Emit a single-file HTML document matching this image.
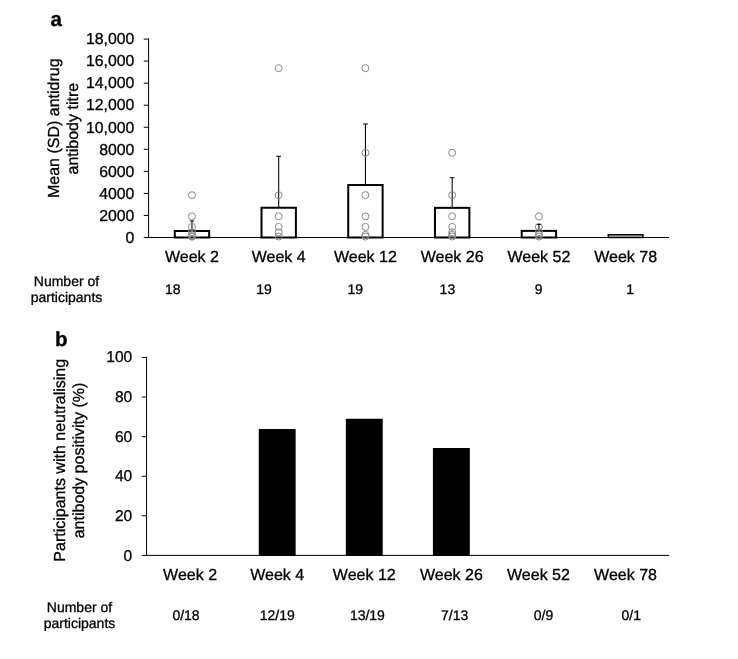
<!DOCTYPE html>
<html lang="en">
<head>
<meta charset="utf-8">
<title>Figure</title>
<style>html,body{margin:0;padding:0;background:#fff}svg{display:block}text{stroke:#000;stroke-width:.3px;text-rendering:geometricPrecision}</style>
</head>
<body>
<svg width="738" height="659" viewBox="0 0 738 659" font-family='"Liberation Sans", Arial, Helvetica, sans-serif' fill="#000">
<rect width="738" height="659" fill="#fff"/>
<g stroke="#000" stroke-width="1" fill="none">
<path d="M148.6 38.49V237.5H669.0"/>
<path d="M143.80 237.50H148.6M143.80 215.45H148.6M143.80 193.41H148.6M143.80 171.37H148.6M143.80 149.32H148.6M143.80 127.27H148.6M143.80 105.23H148.6M143.80 83.18H148.6M143.80 61.14H148.6M143.80 39.09H148.6"/>
</g>
<g font-size="15.85" text-anchor="end">
<text x="134.4" y="242.75">0</text>
<text x="134.4" y="220.70">2000</text>
<text x="134.4" y="198.66">4000</text>
<text x="134.4" y="176.62">6000</text>
<text x="134.4" y="154.57">8000</text>
<text x="134.4" y="132.52">10,000</text>
<text x="134.4" y="110.48">12,000</text>
<text x="134.4" y="88.43">14,000</text>
<text x="134.4" y="66.39">16,000</text>
<text x="134.4" y="44.34">18,000</text>
</g>
<rect x="174.77" y="231.00" width="34.4" height="6.50" fill="#fff" stroke="#000" stroke-width="2"/>
<rect x="261.50" y="207.74" width="34.4" height="29.76" fill="#fff" stroke="#000" stroke-width="2"/>
<rect x="348.23" y="185.03" width="34.4" height="52.47" fill="#fff" stroke="#000" stroke-width="2"/>
<rect x="434.97" y="207.85" width="34.4" height="29.65" fill="#fff" stroke="#000" stroke-width="2"/>
<rect x="521.70" y="230.89" width="34.4" height="6.61" fill="#fff" stroke="#000" stroke-width="2"/>
<rect x="608.33" y="234.8" width="34.6" height="2.6" fill="#fff" stroke="#000" stroke-width="1.6"/>
<path d="M191.97 231.00V221.08M189.77 221.08h4.4" stroke="#000" stroke-width="1.05" fill="none"/>
<circle cx="191.97" cy="195.17" r="3.5" fill="none" stroke="#8a8a8a" stroke-width="1"/>
<circle cx="191.97" cy="216.34" r="3.5" fill="none" stroke="#8a8a8a" stroke-width="1"/>
<circle cx="191.97" cy="226.92" r="3.5" fill="none" stroke="#8a8a8a" stroke-width="1"/>
<circle cx="191.97" cy="232.21" r="3.5" fill="none" stroke="#8a8a8a" stroke-width="1"/>
<circle cx="191.97" cy="234.85" r="3.5" fill="none" stroke="#8a8a8a" stroke-width="1"/>
<circle cx="191.97" cy="236.18" r="3.5" fill="none" stroke="#8a8a8a" stroke-width="1"/>
<circle cx="191.97" cy="236.73" r="3.5" fill="none" stroke="#8a8a8a" stroke-width="1"/>
<path d="M278.70 207.74V156.25M276.30 156.25h4.8" stroke="#000" stroke-width="1.05" fill="none"/>
<circle cx="278.70" cy="68.19" r="3.5" fill="none" stroke="#8a8a8a" stroke-width="1"/>
<circle cx="278.70" cy="195.17" r="3.5" fill="none" stroke="#8a8a8a" stroke-width="1"/>
<circle cx="278.70" cy="216.34" r="3.5" fill="none" stroke="#8a8a8a" stroke-width="1"/>
<circle cx="278.70" cy="226.92" r="3.5" fill="none" stroke="#8a8a8a" stroke-width="1"/>
<circle cx="278.70" cy="232.21" r="3.5" fill="none" stroke="#8a8a8a" stroke-width="1"/>
<circle cx="278.70" cy="236.51" r="3.5" fill="none" stroke="#8a8a8a" stroke-width="1"/>
<path d="M365.43 185.03V123.90M363.03 123.90h4.8" stroke="#000" stroke-width="1.05" fill="none"/>
<circle cx="365.43" cy="68.19" r="3.5" fill="none" stroke="#8a8a8a" stroke-width="1"/>
<circle cx="365.43" cy="152.85" r="3.5" fill="none" stroke="#8a8a8a" stroke-width="1"/>
<circle cx="365.43" cy="195.17" r="3.5" fill="none" stroke="#8a8a8a" stroke-width="1"/>
<circle cx="365.43" cy="216.34" r="3.5" fill="none" stroke="#8a8a8a" stroke-width="1"/>
<circle cx="365.43" cy="226.92" r="3.5" fill="none" stroke="#8a8a8a" stroke-width="1"/>
<circle cx="365.43" cy="234.85" r="3.5" fill="none" stroke="#8a8a8a" stroke-width="1"/>
<circle cx="365.43" cy="236.51" r="3.5" fill="none" stroke="#8a8a8a" stroke-width="1"/>
<path d="M452.17 207.85V177.76M449.87 177.76h4.6" stroke="#000" stroke-width="1.05" fill="none"/>
<circle cx="452.17" cy="152.85" r="3.5" fill="none" stroke="#8a8a8a" stroke-width="1"/>
<circle cx="452.17" cy="195.17" r="3.5" fill="none" stroke="#8a8a8a" stroke-width="1"/>
<circle cx="452.17" cy="216.34" r="3.5" fill="none" stroke="#8a8a8a" stroke-width="1"/>
<circle cx="452.17" cy="226.92" r="3.5" fill="none" stroke="#8a8a8a" stroke-width="1"/>
<circle cx="452.17" cy="232.21" r="3.5" fill="none" stroke="#8a8a8a" stroke-width="1"/>
<circle cx="452.17" cy="234.85" r="3.5" fill="none" stroke="#8a8a8a" stroke-width="1"/>
<circle cx="452.17" cy="236.51" r="3.5" fill="none" stroke="#8a8a8a" stroke-width="1"/>
<path d="M538.90 230.89V224.49M536.70 224.49h4.4" stroke="#000" stroke-width="1.05" fill="none"/>
<circle cx="538.90" cy="216.34" r="3.5" fill="none" stroke="#8a8a8a" stroke-width="1"/>
<circle cx="538.90" cy="226.92" r="3.5" fill="none" stroke="#8a8a8a" stroke-width="1"/>
<circle cx="538.90" cy="232.21" r="3.5" fill="none" stroke="#8a8a8a" stroke-width="1"/>
<circle cx="538.90" cy="234.85" r="3.5" fill="none" stroke="#8a8a8a" stroke-width="1"/>
<circle cx="538.90" cy="236.51" r="3.5" fill="none" stroke="#8a8a8a" stroke-width="1"/>
<g font-size="16" text-anchor="middle">
<text x="191.97" y="261.8">Week 2</text>
<text x="278.70" y="261.8">Week 4</text>
<text x="365.43" y="261.8">Week 12</text>
<text x="452.17" y="261.8">Week 26</text>
<text x="538.90" y="261.8">Week 52</text>
<text x="625.63" y="261.8">Week 78</text>
</g>
<g font-size="16" text-anchor="middle">
<text transform="translate(58.8 128.2) rotate(-90)">Mean (SD) antidrug</text>
<text transform="translate(77.5 128.7) rotate(-90)">antibody titre</text>
</g>
<text x="50.6" y="25.5" font-size="20.5" font-weight="bold">a</text>
<g font-size="14" text-anchor="middle">
<text x="66.5" y="286.2">Number of</text>
<text x="66.5" y="302.1">participants</text>
<text x="172.8" y="294.4">18</text>
<text x="264.0" y="294.4">19</text>
<text x="355.3" y="294.4">19</text>
<text x="447.4" y="294.4">13</text>
<text x="538.7" y="294.4">9</text>
<text x="630.1" y="294.4">1</text>
</g>
<g stroke="#000" stroke-width="1" fill="none">
<path d="M146.55 356.85V555.4H669.1"/>
<path d="M141.75 555.40H146.55M141.75 515.81H146.55M141.75 476.22H146.55M141.75 436.63H146.55M141.75 397.04H146.55M141.75 357.45H146.55"/>
</g>
<g font-size="15.6" text-anchor="end">
<text x="132.3" y="560.80">0</text>
<text x="132.3" y="521.07">20</text>
<text x="132.3" y="481.34">40</text>
<text x="132.3" y="441.61">60</text>
<text x="132.3" y="401.88">80</text>
<text x="132.3" y="362.15">100</text>
</g>
<rect x="258.74" y="429.11" width="36.9" height="126.79" fill="#000" rx="0.6"/>
<rect x="345.83" y="418.72" width="36.9" height="137.18" fill="#000" rx="0.6"/>
<rect x="432.92" y="447.91" width="36.9" height="107.99" fill="#000" rx="0.6"/>
<g font-size="16" text-anchor="middle">
<text x="190.10" y="580">Week 2</text>
<text x="277.19" y="580">Week 4</text>
<text x="364.28" y="580">Week 12</text>
<text x="451.37" y="580">Week 26</text>
<text x="538.46" y="580">Week 52</text>
<text x="625.55" y="580">Week 78</text>
</g>
<g font-size="16" text-anchor="middle">
<text transform="translate(65 460.3) rotate(-90)">Participants with neutralising</text>
<text transform="translate(84.2 460.5) rotate(-90)">antibody positivity (%)</text>
</g>
<text x="55.1" y="345.8" font-size="20.5" font-weight="bold">b</text>
<g font-size="14" text-anchor="middle">
<text x="79.5" y="612.2">Number of</text>
<text x="79.5" y="628.0">participants</text>
<text x="186.0" y="620.1">0/18</text>
<text x="277.3" y="620.1">12/19</text>
<text x="367.4" y="620.1">13/19</text>
<text x="454.6" y="620.1">7/13</text>
<text x="543.5" y="620.1">0/9</text>
<text x="631.2" y="620.1">0/1</text>
</g>
</svg>
</body>
</html>
